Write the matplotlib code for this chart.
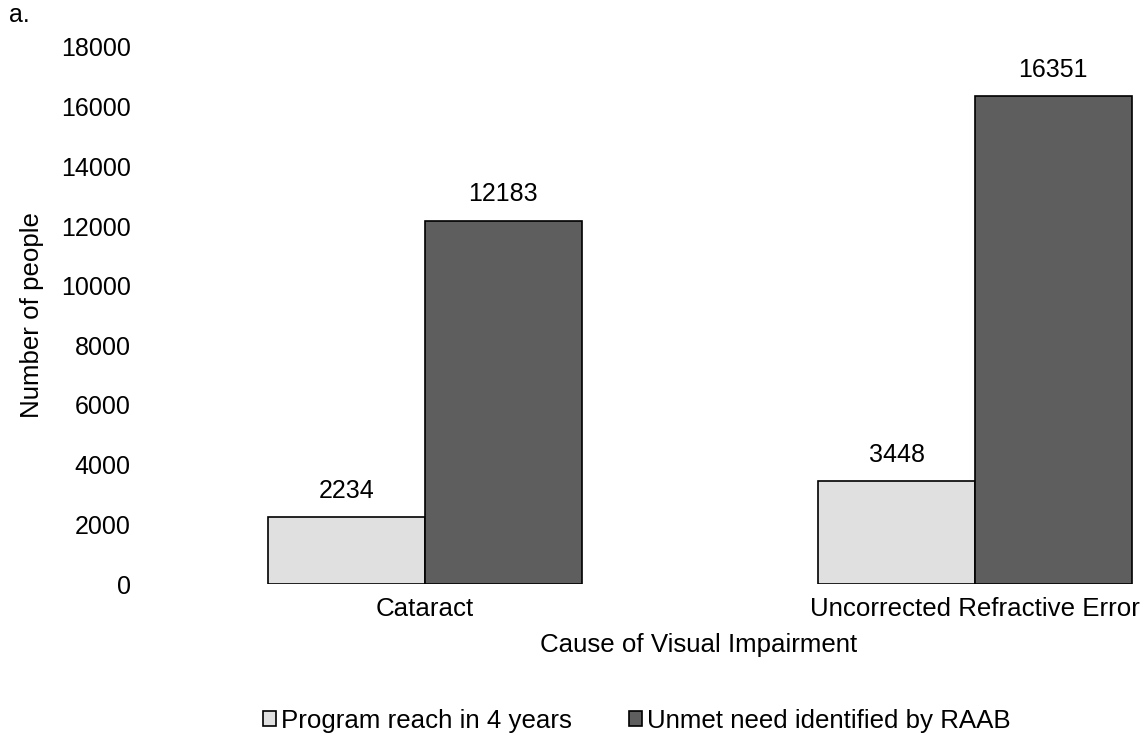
import matplotlib
matplotlib.use("Agg")
import matplotlib.pyplot as plt
import numpy as np

categories = ["Cataract", "Uncorrected Refractive Error"]
program_reach = [2234, 3448]
unmet_need = [12183, 16351]
series_labels = ["Program reach in 4 years", "Unmet need identified by RAAB"]
yticks = [0, 2000, 4000, 6000, 8000, 10000, 12000, 14000, 16000, 18000]

plt.rcParams['font.family'] = ['Liberation Sans', 'DejaVu Sans']
FS = 18
FS2 = 18.6

W, H = 1146, 738
fig = plt.figure(figsize=(W / 100, H / 100), dpi=100)
left_px, right_px, top_px, bot_px = 150, 1140, 47, 584
ax = fig.add_axes([left_px / W, 1 - bot_px / H, (right_px - left_px) / W, (bot_px - top_px) / H])

x = np.arange(len(categories))
bw = 0.285
b1 = ax.bar(x - bw / 2, program_reach, bw, color="#e0e0e0", edgecolor="black", linewidth=1.2, label=series_labels[0])
b2 = ax.bar(x + bw / 2, unmet_need, bw, color="#5e5e5e", edgecolor="black", linewidth=1.2, label=series_labels[1])

for bars in (b1, b2):
    for r in bars:
        ax.annotate(f"{int(r.get_height())}", (r.get_x() + r.get_width() / 2, r.get_height()),
                    xytext=(0, 10.5), textcoords="offset points", ha="center", va="bottom", fontsize=FS)

ax.set_xlim(-0.5, 1.3)
ax.set_ylim(0, 18000)
ax.set_yticks(yticks)
ax.set_yticklabels([str(v) for v in yticks], fontsize=FS)
ax.set_xticks(x)
ax.set_xticklabels(categories, fontsize=FS2)
ax.tick_params(axis="y", length=0, pad=14)
ax.tick_params(axis="x", length=0, pad=9)
for s in ax.spines.values():
    s.set_visible(False)

ax.set_ylabel("Number of people", fontsize=FS2)
ax.yaxis.set_label_coords((44 - left_px) / (right_px - left_px), 0.5)
ax.set_xlabel("Cause of Visual Impairment", fontsize=FS2)
ax.xaxis.set_label_coords((699 - left_px) / (right_px - left_px), (bot_px - 633) / (bot_px - top_px))

fig.text(9 / W, 1 - 15 / H, "a.", fontsize=FS, ha="left", va="center")

leg = fig.legend(handles=[b1, b2], labels=series_labels, loc="center", bbox_to_anchor=(637 / W, 1 - 721 / H),
                 ncol=2, frameon=False, fontsize=FS2, handlelength=0.5, handleheight=0.5,
                 handletextpad=0.2, columnspacing=2.2, borderpad=0, borderaxespad=0)

fig.savefig("out.png", dpi=100, facecolor="white")
